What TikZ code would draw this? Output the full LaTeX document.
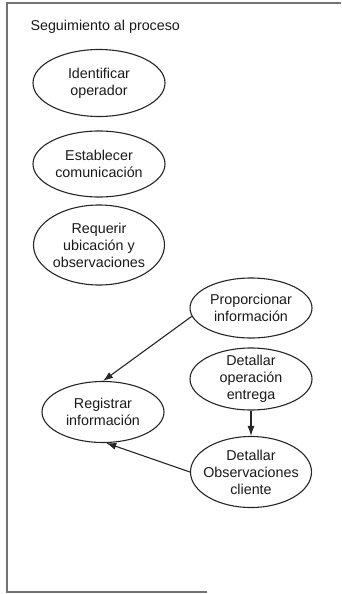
\documentclass[tikz,border=0pt]{standalone}
\usepackage{fontspec}
\setmainfont{Liberation Sans}
\usetikzlibrary{shapes.geometric,arrows.meta}
\begin{document}
\begin{tikzpicture}[x=1pt,y=-1pt,
  proc/.style={ellipse,draw=black!85,line width=1.1pt,inner xsep=-12pt,inner ysep=-4pt,
    align=center,text=black!90,font=\fontsize{14.3}{17}\selectfont},
  flow/.style={-{Latex[length=10pt,width=7pt]},line width=1.1pt,draw=black!85},
  frame/.style={draw=black!55,line width=1.2pt}]
\useasboundingbox (0,0) rectangle (341,594);
% open frame around the activity
\draw[frame] (341,3) -- (7,3) -- (7,592) -- (207,592);
\node[anchor=west,font=\fontsize{14.3}{17}\selectfont,text=black!90] (title) at (27,27) {Seguimiento al proceso};
% activities
\node[proc,minimum width=132pt,minimum height=67pt] (ident) at (99,83) {Identificar\\operador};
\node[proc,minimum width=132pt,minimum height=66pt] (estab) at (99,164) {Establecer\\comunicación};
\node[proc,minimum width=131pt,minimum height=80pt] (requ) at (99,245) {Requerir\\ubicación y\\observaciones};
\node[proc,minimum width=122pt,minimum height=60pt] (prop) at (251,308) {Proporcionar\\información};
\node[proc,minimum width=122pt,minimum height=62pt] (detop) at (251,379) {Detallar\\operación\\entrega};
\node[proc,minimum width=122pt,minimum height=61pt] (reg) at (103,412) {Registrar\\información};
\node[proc,minimum width=121pt,minimum height=71pt] (detobs) at (251,472) {Detallar\\Observaciones\\cliente};
% flows
\draw[flow] (prop.188) -- (reg.north);
\draw[flow] (detop.south) -- (detobs.north);
\draw[flow] (detobs.west) -- (reg.-84);
\end{tikzpicture}
\end{document}
